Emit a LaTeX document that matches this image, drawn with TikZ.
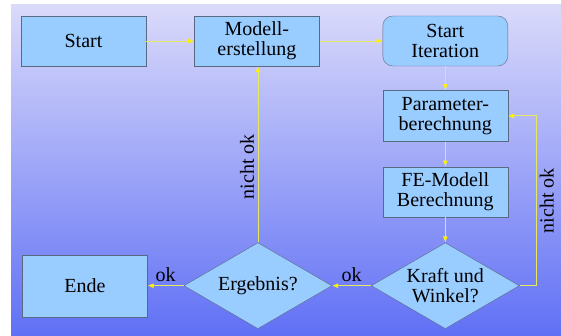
\documentclass[tikz,border=0pt]{standalone}
\usepackage{fontspec}
\setmainfont{Liberation Serif}
\usetikzlibrary{arrows.meta, shapes.geometric, positioning}
\definecolor{boxfill}{RGB}{153,204,255}
\definecolor{boxline}{RGB}{90,105,130}
\definecolor{flowline}{RGB}{232,232,95}
\definecolor{bgtop}{RGB}{218,218,250}
\definecolor{bgbottom}{RGB}{96,112,245}

\begin{document}
\begin{tikzpicture}[font=\fontsize{20}{20}\selectfont,
                    block/.style={rectangle, draw=boxline, fill=boxfill, minimum width=125pt,
                                  minimum height=50pt, align=center, inner sep=2pt},
                    decision/.style={diamond, aspect=1.72, draw=boxline, fill=boxfill, minimum width=148pt,
                                     minimum height=86pt, align=center, inner sep=0pt},
                    flow/.style={draw=flowline, line width=0.8pt, -{Latex[length=6pt,width=5pt,color=yellow]}}]
                    
                    \useasboundingbox (0,0) rectangle (561pt,-336pt);
                    \fill[top color=bgtop, bottom color=bgbottom] (11pt,-5pt) rectangle (561pt,-336pt);

                    \node (Start) [block] at (83.5pt,-41pt) {Start};
                    \node (Modell) [block, right=48pt of Start] {Modell-\\erstellung};
                    \node (Iteration) [block, rounded corners=10pt, right=63pt of Modell] {Start\\Iteration};
                    \node (Param) [block, minimum height=51pt, below=24pt of Iteration] {Parameter-\\berechnung};
                    \node (FE) [block, below=25pt of Param] {FE-Modell\\Berechnung};
                    \node (Kraft) [decision, below=25.5pt of FE] {Kraft und\\Winkel?};
                    \node (Ergebnis) [decision, left=39pt of Kraft] {Ergebnis?};
                    \node (Ende) [block, minimum height=62pt, left=36pt of Ergebnis] {Ende};
                    \node (Back) [coordinate, right=28pt of Param.east] {};

                    \draw[flow] (Start) -- (Modell);
                    \draw[flow] (Modell) -- (Iteration);
                    \draw[flow] (Iteration) -- (Param);
                    \draw[flow] (Param) -- (FE);
                    \draw[flow] (FE) -- (Kraft);
                    \draw[flow] (Kraft) -- node[above] {ok} (Ergebnis);
                    \draw[flow] (Ergebnis) -- node[above] {ok} (Ende);
                    \draw[flow] (Ergebnis.north) -- node[pos=0.43, rotate=90, anchor=south] {nicht ok} (Ergebnis.north |- Modell.south);
                    \draw[flow] (Kraft.east) -| node[pos=0.75, rotate=90, anchor=north] {nicht ok} (Back) -- (Param.east);
                \end{tikzpicture}
\end{document}
